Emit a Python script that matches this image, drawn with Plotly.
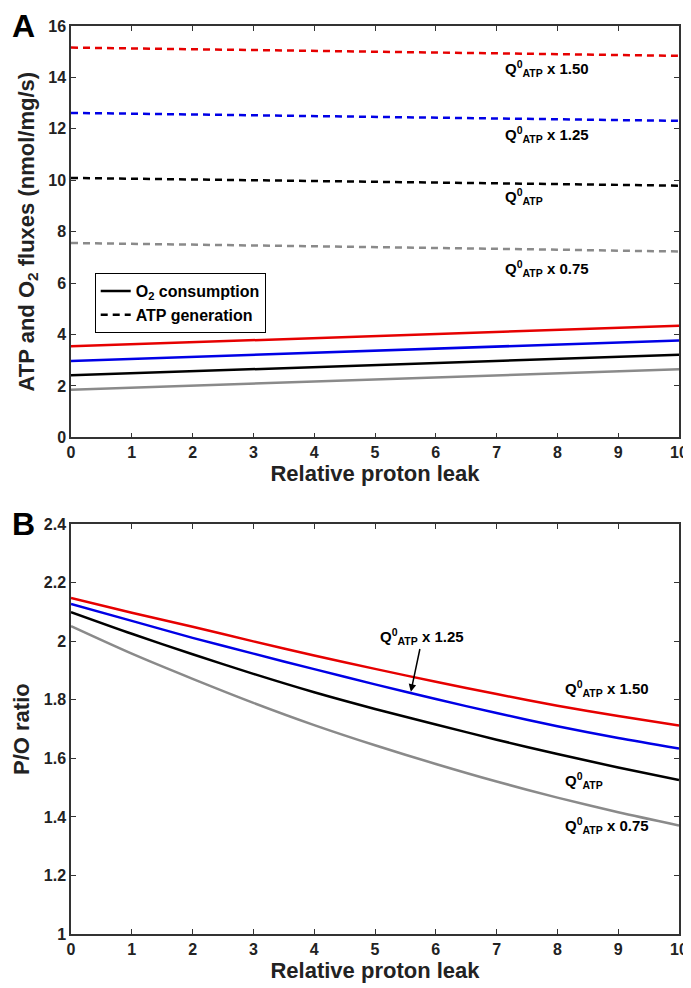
import plotly.graph_objects as go

leak = [0, 1, 2, 3, 4, 5, 6, 7, 8, 9, 10]

# panel A: ATP generation (dashed) and O2 consumption (solid)
atp_150 = [15.16, 15.13, 15.10, 15.06, 15.03, 15.00, 14.97, 14.93, 14.90, 14.87, 14.84]
atp_125 = [12.62, 12.59, 12.56, 12.53, 12.50, 12.47, 12.43, 12.40, 12.37, 12.34, 12.31]
atp_100 = [10.09, 10.06, 10.03, 10.00, 9.97, 9.94, 9.91, 9.88, 9.85, 9.82, 9.79]
atp_075 = [7.56, 7.53, 7.49, 7.46, 7.43, 7.40, 7.36, 7.33, 7.30, 7.26, 7.23]
o2_150 = [3.54, 3.62, 3.70, 3.78, 3.86, 3.94, 4.02, 4.10, 4.18, 4.26, 4.34]
o2_125 = [2.97, 3.05, 3.13, 3.21, 3.29, 3.37, 3.45, 3.53, 3.61, 3.69, 3.77]
o2_100 = [2.41, 2.49, 2.57, 2.65, 2.73, 2.81, 2.89, 2.97, 3.05, 3.13, 3.21]
o2_075 = [1.85, 1.93, 2.01, 2.09, 2.17, 2.25, 2.33, 2.41, 2.49, 2.57, 2.65]

# panel B: P/O ratio
po_150 = [2.148, 2.098, 2.050, 2.000, 1.952, 1.906, 1.862, 1.820, 1.780, 1.745, 1.712]
po_125 = [2.128, 2.070, 2.012, 1.958, 1.905, 1.853, 1.803, 1.755, 1.710, 1.670, 1.634]
po_100 = [2.100, 2.026, 1.956, 1.889, 1.826, 1.769, 1.716, 1.664, 1.615, 1.569, 1.526]
po_075 = [2.052, 1.958, 1.872, 1.790, 1.714, 1.645, 1.581, 1.521, 1.466, 1.416, 1.371]

RED, BLUE, BLACK, GRAY = '#e60000', '#0000e6', '#000000', '#8a8a8a'
FONT = 'Liberation Sans Narrow, Liberation Sans, Arial, sans-serif'
Q = 'Q<sup>0</sup><sub>ATP</sub>'

fig = go.Figure()

for ys, c in [(atp_150, RED), (atp_125, BLUE), (atp_075, GRAY)]:
    fig.add_trace(go.Scatter(x=leak, y=ys, mode='lines', showlegend=False,
                             line=dict(color=c, width=2.5, dash='7px,5px'), xaxis='x', yaxis='y'))
for ys, c in [(o2_150, RED), (o2_125, BLUE), (o2_075, GRAY)]:
    fig.add_trace(go.Scatter(x=leak, y=ys, mode='lines', showlegend=False,
                             line=dict(color=c, width=2.5), xaxis='x', yaxis='y'))
fig.add_trace(go.Scatter(x=leak, y=o2_100, mode='lines', name='O<sub>2</sub> consumption',
                         line=dict(color=BLACK, width=2.5), xaxis='x', yaxis='y'))
fig.add_trace(go.Scatter(x=leak, y=atp_100, mode='lines', name='ATP generation',
                         line=dict(color=BLACK, width=2.5, dash='7px,5px'), xaxis='x', yaxis='y'))

for ys, c in [(po_150, RED), (po_125, BLUE), (po_100, BLACK), (po_075, GRAY)]:
    fig.add_trace(go.Scatter(x=leak, y=ys, mode='lines', showlegend=False,
                             line=dict(color=c, width=2.5, shape='spline', smoothing=0.8),
                             xaxis='x2', yaxis='y2'))

axis_style = dict(showline=True, linecolor='#333333', linewidth=1.5, mirror='ticks',
                  ticks='inside', ticklen=5, tickwidth=1.2, tickcolor='#333333',
                  showgrid=False, zeroline=False,
                  tickfont=dict(family=FONT, size=16, color='#222222', weight='bold'))
title_font = dict(family=FONT, size=22, color='#222222', weight='bold')

# the page body adds an 8px offset, so margins are shifted to compensate
fig.update_layout(
    width=691, height=988,
    margin=dict(l=63, r=20, t=10, b=62),
    plot_bgcolor='white', paper_bgcolor='white',
    xaxis=dict(domain=[0, 1], anchor='y', range=[0, 10], dtick=1,
               title=dict(text='Relative proton leak', font=title_font, standoff=0), **axis_style),
    yaxis=dict(domain=[0.547, 1], anchor='x', range=[0, 16], dtick=2,
               title=dict(text='ATP and O<sub>2</sub> fluxes (nmol/mg/s)', font=title_font, standoff=8),
               **axis_style),
    xaxis2=dict(domain=[0, 1], anchor='y2', range=[0, 10], dtick=1,
                title=dict(text='Relative proton leak', font=title_font, standoff=0), **axis_style),
    yaxis2=dict(domain=[0, 0.4512], anchor='x2', range=[1, 2.4], dtick=0.2,
                title=dict(text='P/O ratio', font=title_font, standoff=8), **axis_style),
    legend=dict(x=0.039, y=0.728, xanchor='left', yanchor='top',
                bgcolor='white', bordercolor='black', borderwidth=1,
                font=dict(family=FONT, size=16, color='black', weight='bold'),
                tracegroupgap=0, itemwidth=30),
)

lab = dict(family=FONT, size=15, color='black', weight='bold')
notes = [
    ('x', 'y', 7.1, 14.35, Q + ' x 1.50'),
    ('x', 'y', 7.1, 11.78, Q + ' x 1.25'),
    ('x', 'y', 7.1, 9.37, Q),
    ('x', 'y', 7.1, 6.58, Q + ' x 0.75'),
    ('x2', 'y2', 8.1, 1.84, Q + ' x 1.50'),
    ('x2', 'y2', 8.1, 1.525, Q),
    ('x2', 'y2', 8.1, 1.37, Q + ' x 0.75'),
]
for xr, yr, xv, yv, t in notes:
    fig.add_annotation(xref=xr, yref=yr, x=xv, y=yv, text=t, showarrow=False,
                       xanchor='left', yanchor='middle', font=lab)

fig.add_annotation(xref='x2', yref='y2', x=5.59, y=1.828, ax=5.78, ay=2.015,
                   axref='x2', ayref='y2', text=Q + ' x 1.25', font=lab,
                   showarrow=True, arrowhead=2, arrowsize=1, arrowwidth=1.5,
                   arrowcolor='black', standoff=0)

for letter, yp in [('A', 1.0), ('B', 0.4512)]:
    fig.add_annotation(xref='paper', yref='paper', x=-0.1, y=yp, text=letter,
                       showarrow=False, xanchor='left', yanchor='middle',
                       font=dict(family='Liberation Sans, Arial', size=32, color='black', weight='bold'))

fig.write_html('out.html')
